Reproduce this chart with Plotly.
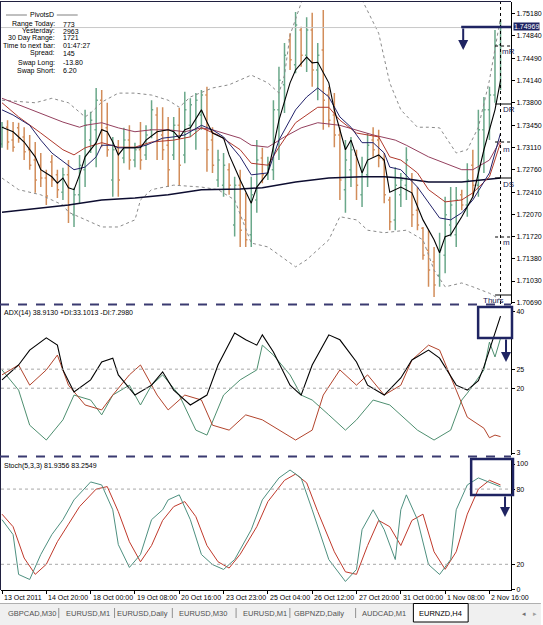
import plotly.graph_objects as go

# ---------------- data ----------------
bar_idx = list(range(91))
bar_open = [1.7316,1.7342,1.7322,1.7341,1.7327,1.7307,1.7291,1.7283,1.7263,1.7288,
            1.7268,1.7241,1.7268,1.7206,1.7237,1.7276,1.7322,1.7338,1.7384,1.7341,
            1.7260,1.7310,1.7294,1.7322,1.7291,1.7307,1.7299,1.7338,1.7361,1.7330,
            1.7314,1.7299,1.7345,1.7299,1.7345,1.7338,1.7361,1.7392,1.7322,1.7260,
            1.7252,1.7276,1.7190,1.7252,1.7198,1.7175,1.7229,1.7294,1.7268,1.7276,
            1.7369,1.7408,1.7478,1.7439,1.7493,1.7454,1.7493,1.7431,1.7462,1.7392,
            1.7361,1.7330,1.7245,1.7276,1.7299,1.7237,1.7268,1.7322,1.7322,1.7291,
            1.7229,1.7198,1.7237,1.7252,1.7260,1.7213,1.7185,1.7151,1.7133,1.7112,
            1.7143,1.7190,1.7175,1.7237,1.7221,1.7283,1.7252,1.7338,1.7369,1.7392,
            1.7470]
bar_high = [1.7350,1.7353,1.7350,1.7349,1.7342,1.7330,1.7319,1.7302,1.7276,1.7299,
            1.7276,1.7279,1.7291,1.7248,1.7299,1.7369,1.7366,1.7403,1.7400,1.7380,
            1.7327,1.7322,1.7341,1.7345,1.7318,1.7350,1.7345,1.7384,1.7373,1.7373,
            1.7358,1.7358,1.7372,1.7397,1.7387,1.7395,1.7400,1.7405,1.7342,1.7307,
            1.7302,1.7286,1.7265,1.7276,1.7240,1.7265,1.7322,1.7310,1.7296,1.7384,
            1.7436,1.7473,1.7488,1.7521,1.7498,1.7513,1.7520,1.7473,1.7524,1.7405,
            1.7395,1.7342,1.7322,1.7327,1.7307,1.7296,1.7333,1.7342,1.7338,1.7302,
            1.7234,1.7280,1.7271,1.7311,1.7271,1.7249,1.7187,1.7182,1.7156,1.7178,
            1.7234,1.7249,1.7249,1.7245,1.7286,1.7307,1.7369,1.7389,1.7405,1.7493,
            1.7509]
bar_low = [1.7310,1.7307,1.7304,1.7318,1.7291,1.7276,1.7240,1.7249,1.7221,1.7249,
           1.7232,1.7229,1.7193,1.7187,1.7224,1.7249,1.7302,1.7280,1.7311,1.7296,
           1.7234,1.7234,1.7286,1.7276,1.7280,1.7276,1.7291,1.7325,1.7291,1.7291,
           1.7249,1.7291,1.7252,1.7286,1.7327,1.7307,1.7338,1.7273,1.7271,1.7249,
           1.7234,1.7237,1.7172,1.7156,1.7156,1.7156,1.7209,1.7255,1.7260,1.7260,
           1.7291,1.7364,1.7431,1.7426,1.7436,1.7428,1.7405,1.7384,1.7338,1.7342,
           1.7311,1.7229,1.7209,1.7249,1.7229,1.7218,1.7249,1.7296,1.7280,1.7224,
           1.7182,1.7182,1.7218,1.7229,1.7187,1.7182,1.7136,1.7094,1.7078,1.7094,
           1.7115,1.7172,1.7156,1.7213,1.7203,1.7234,1.7234,1.7271,1.7322,1.7380,
           1.7400]
bar_close = [1.7342,1.7319,1.7311,1.7325,1.7304,1.7283,1.7260,1.7263,1.7235,1.7260,
             1.7245,1.7268,1.7221,1.7237,1.7283,1.7345,1.7353,1.7384,1.7338,1.7307,
             1.7307,1.7260,1.7322,1.7291,1.7307,1.7291,1.7330,1.7369,1.7322,1.7307,
             1.7276,1.7345,1.7283,1.7369,1.7377,1.7384,1.7392,1.7307,1.7283,1.7291,
             1.7283,1.7252,1.7252,1.7182,1.7167,1.7237,1.7291,1.7268,1.7283,1.7369,
             1.7415,1.7454,1.7447,1.7501,1.7454,1.7493,1.7431,1.7454,1.7384,1.7353,
             1.7330,1.7260,1.7291,1.7307,1.7252,1.7276,1.7314,1.7307,1.7294,1.7237,
             1.7195,1.7252,1.7260,1.7291,1.7206,1.7190,1.7143,1.7120,1.7097,1.7151,
             1.7206,1.7221,1.7229,1.7221,1.7260,1.7252,1.7338,1.7369,1.7392,1.7470,
             1.74969]

fast_idx = [0,2,4,6,7,9,10,11,12,13,14,15,17,18,19,20,21,22,24,25,26,28,30,31,32,33,34,36,37,38,
            40,41,43,45,46,48,50,52,53,55,56,57,59,60,62,63,65,66,68,69,70,72,74,76,78,79,80,81,83,85,
            87,89,90]
fast_val = [1.7342,1.7335,1.7319,1.7296,1.7276,1.7265,1.7255,1.7263,1.7248,1.7245,
            1.7268,1.7296,1.7318,1.7338,1.7335,1.7319,1.7299,1.7310,1.7310,1.7310,
            1.7322,1.7335,1.7338,1.7335,1.7325,1.7338,1.7341,1.7369,1.7350,1.7333,
            1.7325,1.7299,1.7260,1.7224,1.7249,1.7271,1.7353,1.7411,1.7431,1.7451,
            1.7442,1.7443,1.7411,1.7369,1.7307,1.7322,1.7271,1.7291,1.7299,1.7291,
            1.7241,1.7249,1.7240,1.7198,1.7167,1.7147,1.7172,1.7175,1.7203,1.7234,
            1.7307,1.7369,1.7415]
navy_idx = [0,2,5,7,9,12,13,15,17,18,20,21,24,26,29,31,33,36,38,40,43,45,48,50,53,55,57,59,61,63,
            65,67,69,70,72,75,77,79,81,83,85,88,90]
navy_val = [1.7369,1.7361,1.7345,1.7322,1.7302,1.7283,1.7276,1.7280,1.7296,1.7314,
            1.7314,1.7310,1.7310,1.7314,1.7325,1.7327,1.7330,1.7345,1.7338,1.7327,
            1.7296,1.7268,1.7271,1.7322,1.7369,1.7389,1.7403,1.7389,1.7358,1.7342,
            1.7318,1.7318,1.7302,1.7280,1.7276,1.7249,1.7224,1.7201,1.7198,1.7209,
            1.7229,1.7271,1.7333]
red_idx = [0,3,7,11,13,15,18,21,24,27,31,34,36,39,43,45,48,50,53,57,59,61,64,68,70,72,75,77,80,83,
           85,88,90]
red_val = [1.7380,1.7358,1.7333,1.7307,1.7299,1.7310,1.7318,1.7311,1.7311,1.7319,
           1.7322,1.7327,1.7341,1.7330,1.7307,1.7286,1.7283,1.7311,1.7349,1.7373,
           1.7373,1.7353,1.7333,1.7327,1.7296,1.7291,1.7271,1.7245,1.7226,1.7229,
           1.7240,1.7265,1.7318]
mauve_idx = [0,3,7,11,14,15,18,21,24,27,30,33,36,38,43,45,48,51,54,57,61,64,67,71,73,77,81,83,85,88,90]
mauve_val = [1.7387,1.7377,1.7364,1.7350,1.7342,1.7345,1.7349,1.7341,1.7335,1.7338,
             1.7338,1.7335,1.7341,1.7338,1.7325,1.7314,1.7311,1.7327,1.7341,1.7349,
             1.7345,1.7338,1.7330,1.7322,1.7314,1.7296,1.7283,1.7276,1.7276,1.7291,
             1.7322]
slow_idx = [0,6,12,18,24,30,36,43,47,53,59,65,69,72,77,83,87,90]
slow_val = [1.7210,1.7216,1.7221,1.7229,1.7232,1.7237,1.7245,1.7246,1.7248,1.7257,
            1.7263,1.7265,1.7265,1.7263,1.7257,1.7257,1.7260,1.7263]
ub_idx = [0,6,9,12,15,16,18,21,24,27,30,32,34,38,41,45,48,50,51,52,54,56,64,65,68,70,72,75,77,79,
          82,84,86,88,90]
ub_val = [1.7384,1.7380,1.7387,1.7380,1.7358,1.7364,1.7381,1.7395,1.7395,1.7392,
          1.7384,1.7373,1.7389,1.7403,1.7408,1.7423,1.7411,1.7395,1.7423,1.7485,
          1.7535,1.7571,1.7571,1.7540,1.7488,1.7411,1.7369,1.7342,1.7342,1.7341,
          1.7302,1.7307,1.7342,1.7415,1.7512]
lb_idx = [0,3,7,11,12,15,18,21,24,25,27,31,36,39,42,45,48,53,55,59,61,64,66,69,73,76,78,80,83,85,88,90]
lb_val = [1.7263,1.7245,1.7237,1.7221,1.7210,1.7198,1.7187,1.7187,1.7198,1.7229,
          1.7245,1.7252,1.7249,1.7245,1.7229,1.7162,1.7156,1.7125,1.7136,1.7167,
          1.7203,1.7198,1.7182,1.7178,1.7182,1.7167,1.7120,1.7094,1.7100,1.7094,
          1.7084,1.7074]

adx_idx = [0,3,5,8,10,11,13,16,18,20,21,24,27,29,31,34,37,39,42,44,46,47,49,52,54,56,59,61,64,66,
           69,72,74,77,79,82,84,86,87,88,89,90]
adx_val = [22.2,26.1,30.0,33.2,31.3,24.8,19.0,22.2,26.9,27.9,23.5,18.2,20.8,24.3,19.5,15.6,18.2,26.1,34.5,32.7,
           31.3,34.0,29.5,20.8,18.2,26.1,34.0,32.7,26.9,20.8,18.2,22.7,27.4,30.0,27.9,20.8,19.5,22.0,25.6,30.0,
           34.5,38.9]
pdi_idx = [0,3,5,8,11,13,16,18,20,23,25,27,29,32,35,37,40,43,46,47,49,52,54,56,59,62,64,67,70,73,
           75,78,81,83,84,87,88,89,90]
pdi_val = [24.8,19.5,10.3,6.4,11.7,18.2,16.9,13.0,18.2,20.8,15.6,20.8,23.5,18.2,9.0,7.7,18.2,22.2,24.8,31.3,
           28.7,23.5,18.2,16.9,13.0,9.0,11.7,16.9,15.6,11.7,9.0,6.4,9.0,16.9,18.7,24.8,32.1,28.2,33.1]
ndi_idx = [0,3,5,8,10,12,15,18,20,23,25,28,30,33,36,38,41,44,47,50,53,56,58,61,64,66,69,72,74,77,
           79,82,84,87,88,89,90]
ndi_val = [23.5,26.1,20.8,24.8,28.7,20.8,15.6,14.3,18.2,23.5,26.1,18.2,14.3,18.2,16.9,10.3,9.0,13.0,11.7,9.0,
           6.4,9.0,18.2,24.8,20.8,23.5,18.2,20.8,27.4,31.3,30.0,19.5,12.4,9.5,7.0,7.7,7.3]

st_idx = [0,2,3,5,7,9,11,13,16,18,20,21,23,25,27,29,30,32,34,36,38,40,42,45,47,50,52,54,56,59,
          62,64,65,67,69,71,72,73,75,77,79,81,82,84,86,88,90]
st_val = [55.6,43.7,11.9,7.9,27.8,43.7,55.6,71.4,85.7,83.3,63.5,35.7,17.5,27.8,55.6,63.5,71.4,75.4,55.6,27.8,
          19.8,15.9,23.8,47.6,71.4,88.9,95.2,88.9,63.5,23.8,6.3,15.9,47.6,63.5,47.6,23.8,63.5,75.4,55.6,19.8,
          11.9,23.8,63.5,83.3,88.9,85.7,81.9]
sig_idx = [0,2,4,6,8,10,12,14,17,19,21,23,25,27,29,31,33,35,37,39,41,43,46,48,51,53,55,57,60,62,
           64,66,68,70,72,74,76,78,80,82,84,86,88,90]
sig_val = [60,50,25,12,20,38,52,66,80,82,62,38,22,35,55,66,70,58,35,22,
           17,28,50,70,87,92,85,62,30,14,12,35,55,50,35,55,60,30,16,30,
           60,80,87,83.3]

price_ticks = [1.75180,1.74840,1.74490,1.74140,1.73800,1.73450,1.73110,
               1.72760,1.72410,1.72070,1.71720,1.71380,1.71030,1.70690]
last_price = 1.74969
adx_ticks = [40, 25, 20, 3]
adx_levels = [25, 20]
stoch_ticks = [100, 80, 20, 0]
stoch_levels = [80, 20]
x_tick_idx = [0, 8, 16, 24, 32, 40, 48, 56, 64, 72, 80, 88]
x_tick_labels = ["13 Oct 2011", "14 Oct 20:00", "18 Oct 00:00", "19 Oct 08:00", "20 Oct 16:00",
                 "23 Oct 23:00", "25 Oct 04:00", "26 Oct 12:00", "27 Oct 20:00", "31 Oct 00:00",
                 "1 Nov 08:00", "2 Nov 16:00"]
info_labels = ["Range Today:", "Yesterday:", "30 Day Range:", "Time to next bar:", "Spread:", "Swap Long:", "Swap Short:"]
info_values = ["773", "2963", "1721", "01:47:27", "145", "-13.80", "6.20"]
adx_title = "ADX(14) 38.9130 +DI:33.1013 -DI:7.2980"
stoch_title = "Stoch(5,3,3) 81.9356 83.2549"
tabs = ["GBPCAD,M30", "EURUSD,M1", "EURUSD,Daily", "EURUSD,M30", "EURUSD,M1", "GBPNZD,Daily", "AUDCAD,M1", "EURNZD,H4"]

# ---------------- styling / geometry ----------------
W, H = 543, 625
ML, MR, MT, MB = 1, 30, 2, 35
PW, PH = W - ML - MR, H - MT - MB
FONT = "Liberation Sans"
C_UP, C_DN = "#6aa88a", "#d28d5a"
NAVY = "#1f2462"

def px(x):
    return (x - ML) / PW

def py(y):
    return (H - MB - y) / PH

fig = go.Figure()

def add_line(xs, ys, color, width=1.0, dash=None, yaxis="y"):
    fig.add_trace(go.Scatter(x=xs, y=ys, mode="lines", yaxis=yaxis, xaxis="x",
                             line=dict(color=color, width=width, dash=dash),
                             hoverinfo="skip", showlegend=False))

fig.add_trace(go.Ohlc(x=bar_idx, open=bar_open, high=bar_high, low=bar_low, close=bar_close,
                      increasing=dict(line=dict(color=C_UP, width=1.5)),
                      decreasing=dict(line=dict(color=C_DN, width=1.5)),
                      tickwidth=0.3, xaxis="x", yaxis="y", hoverinfo="skip", showlegend=False))

add_line(ub_idx, ub_val, "#8a8a8a", 1, "dot")
add_line(lb_idx, lb_val, "#8a8a8a", 1, "dot")
add_line(slow_idx, slow_val, "#0d0d30", 1.5)
add_line(mauve_idx, mauve_val, "#94405e", 1)
add_line(red_idx, red_val, "#b0392c", 1)
add_line(navy_idx, navy_val, "#22226a", 1)
add_line(fast_idx, fast_val, "#000000", 1.1)

add_line(pdi_idx, pdi_val, "#4e8f70", 1, yaxis="y2")
add_line(ndi_idx, ndi_val, "#b2442c", 1, yaxis="y2")
add_line(adx_idx, adx_val, "#000000", 1.1, yaxis="y2")

add_line(sig_idx, sig_val, "#c0392b", 1, yaxis="y3")
add_line(st_idx, st_val, "#4e9080", 1, yaxis="y3")

axfont = dict(family=FONT, size=7, color="#000")
common_y = dict(side="right", showgrid=False, zeroline=False, showline=True, linecolor="#000",
                linewidth=1, ticks="outside", ticklen=3, tickcolor="#000", tickfont=axfont,
                fixedrange=True, anchor="x")

fig.update_layout(
    width=W, height=H, margin=dict(l=ML, r=MR, t=MT, b=MB),
    paper_bgcolor="white", plot_bgcolor="white", showlegend=False,
    xaxis=dict(domain=[0, 1], range=[-0.18, 91.89], anchor="y3", showgrid=False, zeroline=False,
               showticklabels=False, ticks="outside", ticklen=3, tickcolor="#000",
               tickvals=x_tick_idx, showline=True, linecolor="#000", linewidth=1,
               rangeslider=dict(visible=False), fixedrange=True),
    yaxis=dict(domain=[py(304), 1.0], range=[1.70673, 1.75366], tickvals=price_ticks,
               ticktext=["%.5f" % v for v in price_ticks], **common_y),
    yaxis2=dict(domain=[py(455), py(307)], range=[2.475, 41.31], tickvals=adx_ticks,
                ticktext=[str(v) for v in adx_ticks], **common_y),
    yaxis3=dict(domain=[0, py(458)], range=[-0.5, 104.8], tickvals=stoch_ticks,
                ticktext=[str(v) for v in stoch_ticks], **common_y),
)

shapes = []
ann = []

def hline(x0, x1, y, color, width=1, dash="solid"):
    shapes.append(dict(type="line", xref="paper", yref="paper", x0=px(x0), x1=px(x1),
                       y0=py(y), y1=py(y), line=dict(color=color, width=width, dash=dash)))

def vline(x, y0, y1, color, width=1, dash="solid"):
    shapes.append(dict(type="line", xref="paper", yref="paper", x0=px(x), x1=px(x),
                       y0=py(y0), y1=py(y1), line=dict(color=color, width=width, dash=dash)))

def txt(x, y, s, size=7, color="#000", anchor="left", bg=None):
    d = dict(x=px(x), y=py(y), xref="paper", yref="paper", text=s, showarrow=False,
             xanchor=anchor, yanchor="middle", font=dict(family=FONT, size=size, color=color),
             borderpad=0)
    if bg:
        d["bgcolor"] = bg
    ann.append(d)

def arrow(x, y0, y1):
    ann.append(dict(x=px(x), y=py(y1), xref="paper", yref="paper", ax=0, ay=-(y1 - y0),
                    showarrow=True, arrowhead=2, arrowsize=1, arrowwidth=2,
                    arrowcolor=NAVY, text=""))

# frame & separators
vline(0.5, 1, 590, "#202040", 1)
hline(0, 513, 1.5, "#202040", 1)
hline(0, 513, 304.5, "#3a3a70", 2, "dash")
hline(0, 513, 456.5, "#3a3a70", 2, "dash")

# level lines
for lv in adx_levels:
    shapes.append(dict(type="line", xref="paper", yref="y2", x0=0, x1=1, y0=lv, y1=lv,
                       line=dict(color="#a8a8a8", width=1, dash="dot")))
for lv in stoch_levels:
    shapes.append(dict(type="line", xref="paper", yref="y3", x0=0, x1=1, y0=lv, y1=lv,
                       line=dict(color="#a8a8a8", width=1, dash="dot")))

# bid line and current bar marker
shapes.append(dict(type="line", xref="paper", yref="y", x0=0, x1=1, y0=last_price, y1=last_price,
                   line=dict(color="#c8c8c8", width=1)))
shapes.append(dict(type="line", xref="x", yref="paper", x0=90, x1=90, y0=py(304), y1=1,
                   line=dict(color="#000", width=1, dash="dot")))

# pivot lines on the right
for yy, ds in [(46, "dot"), (104, "solid"), (142, "dot"), (178, "solid"), (237, "dot"), (295, "solid")]:
    hline(497, 513, yy, "#000", 1, ds)
txt(503, 52, "mR", 8, "#202050")
txt(504, 110, "DR", 8, "#202050")
txt(504, 149, "m", 8, "#202050")
txt(504, 184, "DS", 8, "#202050")
txt(504, 243, "m", 8, "#202050")
txt(484, 300, "Thurs", 8, "#202050")

# user drawn navy marks
hline(463, 513, 27, NAVY, 2.5)
arrow(465, 27, 50)
shapes.append(dict(type="rect", xref="paper", yref="paper", x0=px(480), x1=px(514),
                   y0=py(338), y1=py(307), line=dict(color=NAVY, width=2.5)))
arrow(508, 338, 362)
shapes.append(dict(type="rect", xref="paper", yref="paper", x0=px(473), x1=px(515),
                   y0=py(495), y1=py(459), line=dict(color=NAVY, width=2.5)))
arrow(507, 495, 517)

# bid price label
txt(515, 27, "1.74969", 7, "#ffffff", bg=NAVY)

# info panel
hline(6, 27, 15, "#808080", 1)
hline(57, 78, 15, "#808080", 1)
txt(42, 15, "PivotsD", 7, "#000", "center")
for k, (lab, val) in enumerate(zip(info_labels, info_values)):
    yy = [24, 31, 38, 45.5, 53.5, 62.5, 71][k]
    txt(56, yy, lab, 7, "#000", "right")
    txt(62, yy, val, 7, "#000", "left")

# sub-window titles
txt(3, 313, adx_title, 7)
txt(3, 466, stoch_title, 7)

# time labels
for i, lab in zip(x_tick_idx, x_tick_labels):
    ann.append(dict(x=i, y=py(597), xref="x", yref="paper", text=lab, showarrow=False,
                    xanchor="left", yanchor="middle", xshift=0,
                    font=dict(family=FONT, size=7, color="#000")))

# tab bar
shapes.append(dict(type="rect", xref="paper", yref="paper", x0=px(0), x1=px(543),
                   y0=py(625), y1=py(603), fillcolor="#f0f0f0", line=dict(width=0), layer="below"))
hline(0, 543, 603.5, "#b0b0b0", 1)
shapes.append(dict(type="rect", xref="paper", yref="paper", x0=px(415), x1=px(470),
                   y0=py(622), y1=py(603.5), fillcolor="#ffffff", line=dict(color="#000", width=1)))
tab_cx = [32, 88, 143, 204, 266, 320, 385, 442]
for k, (t, cx) in enumerate(zip(tabs, tab_cx)):
    txt(cx, 613, t, 7.5, "#000" if k == len(tabs) - 1 else "#505050", "center")
for sx in [59, 115, 173, 237, 291, 357]:
    vline(sx, 608, 618, "#909090", 1)
txt(526, 613, "◂", 7, "#707070", "center")
txt(537, 613, "▸", 7, "#a0a0a0", "center")

fig.update_layout(shapes=shapes, annotations=ann)
fig.write_html("out.html", config={"displayModeBar": False})
